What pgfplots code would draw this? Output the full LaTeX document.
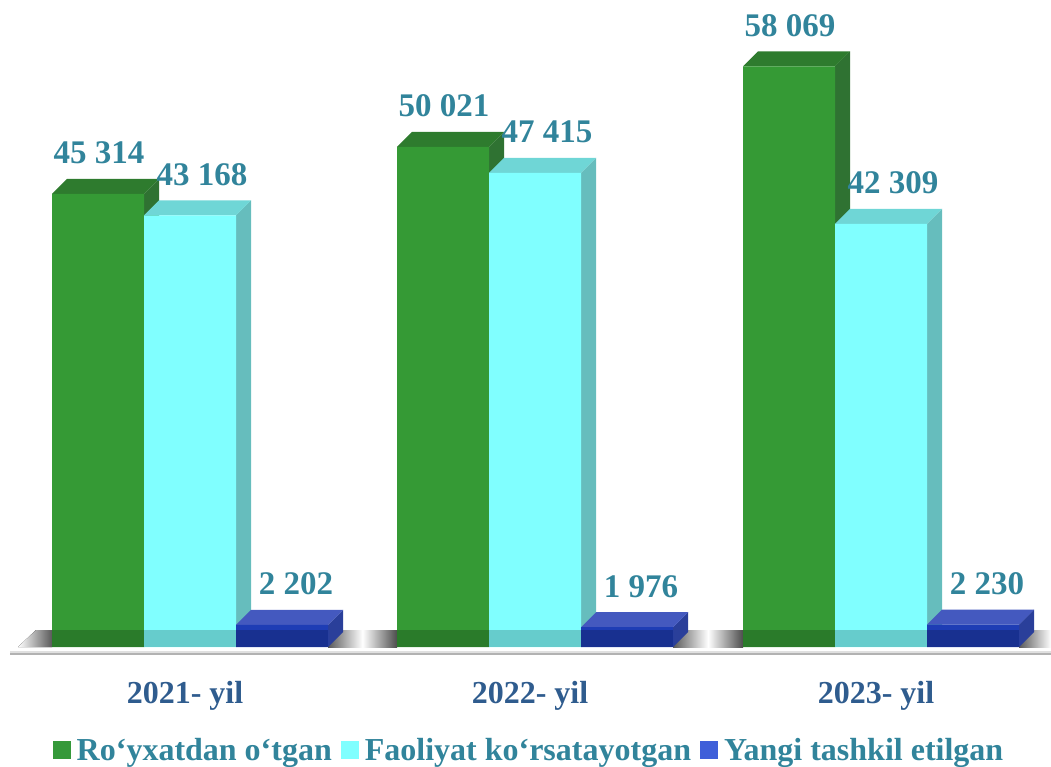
\documentclass[border=0pt]{standalone}
\usepackage{pgfplots}
\pgfplotsset{compat=1.18}
\usepackage{fontspec}
\setmainfont{Liberation Serif}
\definecolor{gfront}{HTML}{359A35}
\definecolor{gtop}{HTML}{2E7B2E}
\definecolor{gside}{HTML}{2F7232}
\definecolor{cfront}{HTML}{80FFFF}
\definecolor{ctop}{HTML}{6FD6D6}
\definecolor{cside}{HTML}{66BDBD}
\definecolor{bfront}{HTML}{1E3DB5}
\definecolor{btop}{HTML}{4459BF}
\definecolor{bside}{HTML}{2A3F9A}
\definecolor{lgreen}{HTML}{35993A}
\definecolor{lcyan}{HTML}{80FFFF}
\definecolor{lblue}{HTML}{3F5FD9}
\definecolor{valcol}{HTML}{31849B}
\definecolor{catcol}{HTML}{2F5C8E}
\begin{document}
\begin{tikzpicture}
\begin{axis}[
  scale only axis, width=1051pt, height=766pt,
  xmin=0, xmax=1051, ymin=-11900, ymax=64700,
  clip=false,
  axis line style={draw=none},
  ytick=\empty,
  xtick={185,530,876},
  xticklabels={2021- yil,2022- yil,2023- yil},
  major tick length=0pt,
  xticklabel style={anchor=base, yshift=63pt, font=\fontsize{32}{36}\selectfont\bfseries, text=catcol},
  legend image code/.code={\path[draw=none,fill=none] (0pt,0pt) -- (24pt,0pt); \fill[#1, draw=none] (6pt,-9pt) rectangle (24pt,9pt);},
  legend columns=-1,
  legend style={draw=none, fill=none, at={(0.5,0)}, anchor=south, yshift=3pt, inner sep=0pt,
    font=\fontsize{32}{36}\selectfont\bfseries, text=valcol,
    nodes={inner sep=1pt},
    /tikz/every odd column/.append style={column sep=5pt},
    /tikz/every even column/.append style={column sep=2pt}},
  every node near coord/.append style={anchor=base, yshift=30pt, font=\fontsize{33}{38}\selectfont\bfseries, text=valcol},
]
% floor line and shadows
\draw[black!30, line width=1.2pt] (axis cs:10,-700) -- (axis cs:1051,-700);
\draw[black!12, line width=2.5pt] (axis cs:10,-500) -- (axis cs:1051,-500);
\fill[left color=white, right color=black!65] (axis cs:18,0) -- (axis cs:52,0) -- (axis cs:52,1700) -- (axis cs:36,1700) -- cycle;
\fill[left color=black!65, right color=black!70, middle color=white] (axis cs:328,0) rectangle (axis cs:397,1700);
\fill[left color=black!65, right color=black!70, middle color=white] (axis cs:673,0) rectangle (axis cs:743,1700);
\fill[left color=black!65, right color=white] (axis cs:1019,0) rectangle (axis cs:1051,1700);

% green series
\addplot[fill=gside, draw=none, forget plot] coordinates {(144,0) (144,45314) (159,46814) (159,1500)} -- cycle;
\addplot[fill=gside, draw=none, forget plot] coordinates {(489,0) (489,50021) (504,51521) (504,1500)} -- cycle;
\addplot[fill=gside, draw=none, forget plot] coordinates {(835,0) (835,58069) (850,59569) (850,1500)} -- cycle;
\addplot[fill=gtop, draw=none, forget plot] coordinates {(52,45314) (67,46814) (159,46814) (144,45314)} -- cycle;
\addplot[fill=gtop, draw=none, forget plot] coordinates {(397,50021) (412,51521) (504,51521) (489,50021)} -- cycle;
\addplot[fill=gtop, draw=none, forget plot] coordinates {(743,58069) (758,59569) (850,59569) (835,58069)} -- cycle;
\addplot[ybar, bar width=92, bar shift=0, fill=gfront, draw=none, forget plot,
  nodes near coords, point meta=explicit symbolic,
  every node near coord/.append style={xshift=1pt}]
  coordinates {(98,45314) [45 314] (443,50021) [50 021] (789,58069) [58 069]};

% cyan series
\addplot[fill=cside, draw=none, forget plot] coordinates {(236,0) (236,43168) (251,44668) (251,1500)} -- cycle;
\addplot[fill=cside, draw=none, forget plot] coordinates {(581,0) (581,47415) (596,48915) (596,1500)} -- cycle;
\addplot[fill=cside, draw=none, forget plot] coordinates {(927,0) (927,42309) (942,43809) (942,1500)} -- cycle;
\addplot[fill=ctop, draw=none, forget plot] coordinates {(144,43168) (159,44668) (251,44668) (236,43168)} -- cycle;
\addplot[fill=ctop, draw=none, forget plot] coordinates {(489,47415) (504,48915) (596,48915) (581,47415)} -- cycle;
\addplot[fill=ctop, draw=none, forget plot] coordinates {(835,42309) (850,43809) (942,43809) (927,42309)} -- cycle;
\addplot[ybar, bar width=92, bar shift=0, fill=cfront, draw=none, forget plot,
  nodes near coords, point meta=explicit symbolic,
  every node near coord/.append style={xshift=12pt}]
  coordinates {(190,43168) [43 168] (535,47415) [47 415] (881,42309) [42 309]};

% blue series
\addplot[fill=bside, draw=none, forget plot] coordinates {(328,0) (328,2202) (343,3702) (343,1500)} -- cycle;
\addplot[fill=bside, draw=none, forget plot] coordinates {(673,0) (673,1976) (688,3476) (688,1500)} -- cycle;
\addplot[fill=bside, draw=none, forget plot] coordinates {(1019,0) (1019,2230) (1034,3730) (1034,1500)} -- cycle;
\addplot[fill=btop, draw=none, forget plot] coordinates {(236,2202) (251,3702) (343,3702) (328,2202)} -- cycle;
\addplot[fill=btop, draw=none, forget plot] coordinates {(581,1976) (596,3476) (688,3476) (673,1976)} -- cycle;
\addplot[fill=btop, draw=none, forget plot] coordinates {(927,2230) (942,3730) (1034,3730) (1019,2230)} -- cycle;
\addplot[ybar, bar width=92, bar shift=0, fill=bfront, draw=none, forget plot,
  nodes near coords, point meta=explicit symbolic,
  every node near coord/.append style={xshift=14pt}]
  coordinates {(282,2202) [2 202] (627,1976) [1 976] (973,2230) [2 230]};

% floor reflection on the fronts
\fill[black, opacity=0.2] (axis cs:52,0) rectangle (axis cs:328,1700);
\fill[black, opacity=0.2] (axis cs:397,0) rectangle (axis cs:673,1700);
\fill[black, opacity=0.2] (axis cs:743,0) rectangle (axis cs:1019,1700);

\addlegendimage{fill=lgreen, draw=none}
\addlegendentry{Ro‘yxatdan o‘tgan}
\addlegendimage{fill=lcyan, draw=none}
\addlegendentry{Faoliyat ko‘rsatayotgan}
\addlegendimage{fill=lblue, draw=none}
\addlegendentry{Yangi tashkil etilgan}
\end{axis}
\pgfresetboundingbox
\path (0,0) rectangle (1051pt,766pt);
\end{tikzpicture}
\end{document}
